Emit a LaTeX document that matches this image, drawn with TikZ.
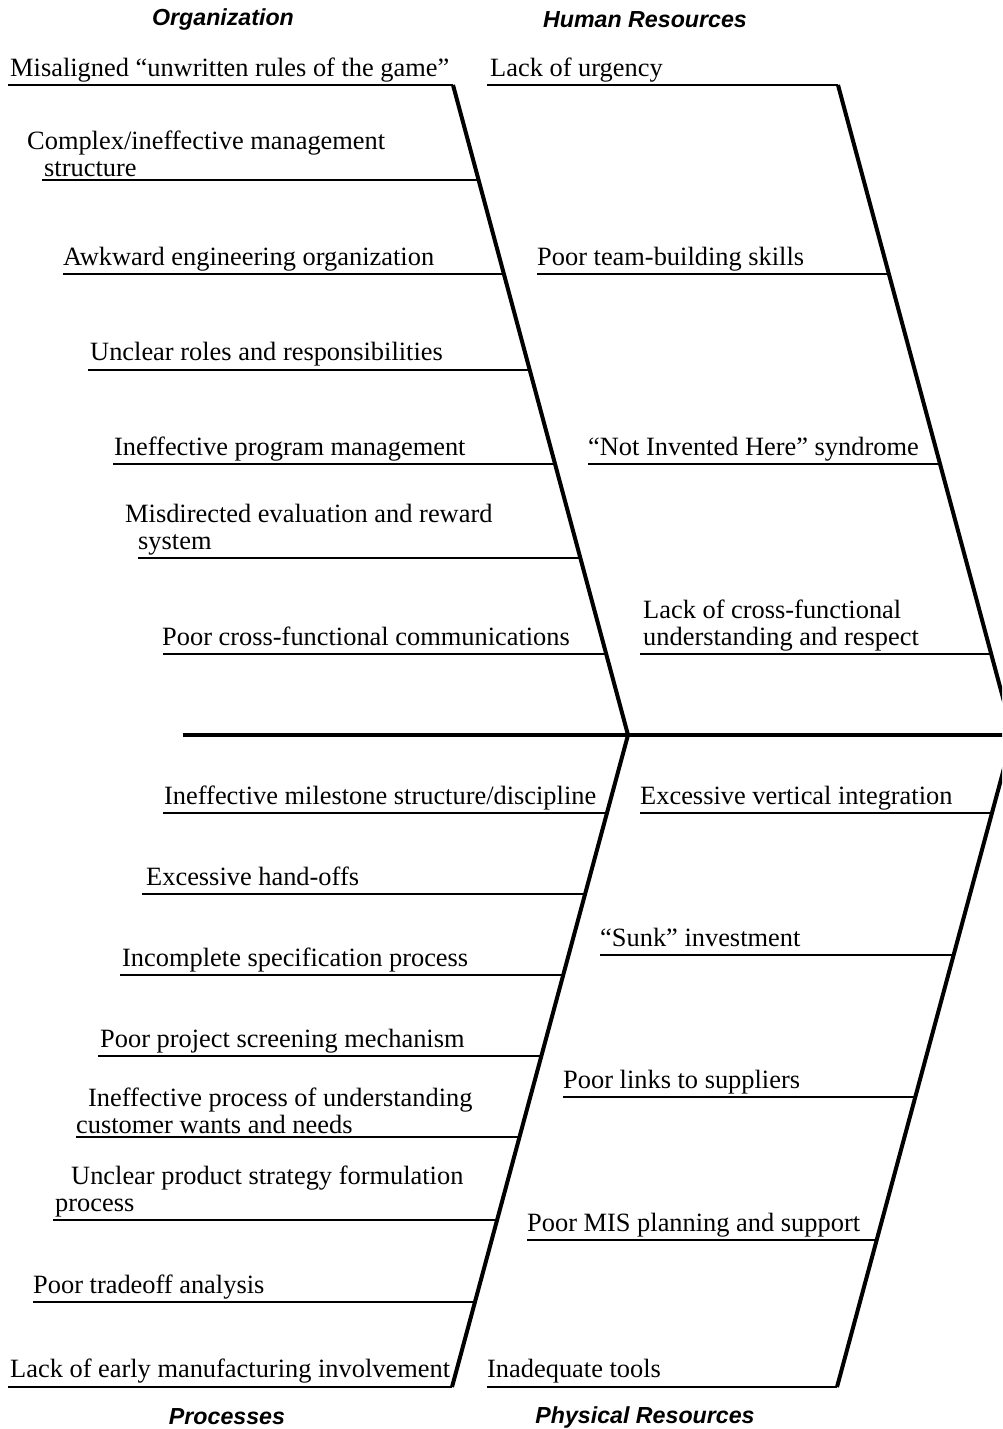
\documentclass[tikz,border=0pt]{standalone}
\usepackage{fontspec}
\setmainfont{Liberation Serif}
\newfontfamily\headfont{Liberation Sans}
\usetikzlibrary{calc}
\newcommand{\myrib}[4]{%
  \coordinate (#1) at (#2);
  \coordinate (#1h) at ($(#1)+(10,0)$);
  \draw[rib] (#1) -- (intersection of #1--#1h and #3--#4);}
\begin{document}
\begin{tikzpicture}[x=1pt,y=-1pt,
  bone/.style={line width=4pt},
  spine/.style={line width=4.4pt},
  rib/.style={line width=1.6pt},
  lbl/.style={anchor=base west,inner sep=0pt,font=\fontsize{26.4}{27}\selectfont,align=left},
  head/.style={inner sep=0pt,font=\headfont\bfseries\itshape\fontsize{23.2}{26}\selectfont}]
\useasboundingbox (0,0) rectangle (1002,1429);
\clip (0,0) rectangle (1002,1429);
% bones
\coordinate (ot) at (453,85);
\coordinate (ob) at (628,735);
\coordinate (ht) at (838,85);
\coordinate (hb) at (1013,735);
\coordinate (pt) at (628,735);
\coordinate (pb) at (452,1387);
\coordinate (yt) at (1013,735);
\coordinate (yb) at (837,1387);
\coordinate (sl) at (183,735);
\coordinate (sr) at (1020,735);
\draw[spine] (sl) -- (sr);
\draw[bone] (ot) -- (ob) -- (pb);
\draw[bone] (ht) -- (hb) -- (yb);
% headers
\node[head] (hOrg) at (223,20) {Organization};
\node[head] (hHR) at (645,20) {Human Resources};
\node[head] (hPr) at (227,1417) {Processes};
\node[head] (hPh) at (645,1417) {Physical Resources};
% Organization
\myrib{o1}{8,85}{ot}{ob}
\node[lbl] (to1) at (10,76) {Misaligned “unwritten rules of the game”};
\myrib{o2}{42,180}{ot}{ob}
\node[lbl,anchor=south west] (to2) at (27,177) {Complex/ineffective management\\\hspace*{17pt}structure};
\myrib{o3}{63,274}{ot}{ob}
\node[lbl] (to3) at (63,265) {Awkward engineering organization};
\myrib{o4}{88,370}{ot}{ob}
\node[lbl] (to4) at (90,360) {Unclear roles and responsibilities};
\myrib{o5}{113,464}{ot}{ob}
\node[lbl] (to5) at (114,455) {Ineffective program management};
\myrib{o6}{138,558}{ot}{ob}
\node[lbl,anchor=south west] (to6) at (125,555) {Misdirected evaluation and reward\\\hspace*{13pt}system};
\myrib{o7}{163,654}{ot}{ob}
\node[lbl] (to7) at (162,645) {Poor cross-functional communications};
% Human resources
\myrib{h1}{487,85}{ht}{hb}
\node[lbl] (th1) at (490,76) {Lack of urgency};
\myrib{h2}{537,274}{ht}{hb}
\node[lbl] (th2) at (537,265) {Poor team-building skills};
\myrib{h3}{588,464}{ht}{hb}
\node[lbl] (th3) at (588,455) {“Not Invented Here” syndrome};
\myrib{h4}{640,654}{ht}{hb}
\node[lbl,anchor=south west] (th4) at (643,651) {Lack of cross-functional\\understanding and respect};
% Processes
\myrib{p1}{163,813}{pt}{pb}
\node[lbl] (tp1) at (164,804) {Ineffective milestone structure/discipline};
\myrib{p2}{142,894}{pt}{pb}
\node[lbl] (tp2) at (146,885) {Excessive hand-offs};
\myrib{p3}{120,975}{pt}{pb}
\node[lbl] (tp3) at (122,966) {Incomplete specification process};
\myrib{p4}{98,1056}{pt}{pb}
\node[lbl] (tp4) at (100,1047) {Poor project screening mechanism};
\myrib{p5}{76,1137}{pt}{pb}
\node[lbl,anchor=south west] (tp5) at (76,1134) {\hspace*{12pt}Ineffective process of understanding\\customer wants and needs};
\myrib{p6}{53,1220}{pt}{pb}
\node[lbl,anchor=south west] (tp6) at (55,1217) {\hspace*{16pt}Unclear product strategy formulation\\process};
\myrib{p7}{33,1302}{pt}{pb}
\node[lbl] (tp7) at (33,1293) {Poor tradeoff analysis};
\coordinate (p8) at (8,1387);
\draw[rib] (p8) -- (pb);
\node[lbl] (tp8) at (10,1377) {Lack of early manufacturing involvement};
% Physical resources
\myrib{y1}{640,813}{yt}{yb}
\node[lbl] (ty1) at (640,804) {Excessive vertical integration};
\myrib{y2}{600,955}{yt}{yb}
\node[lbl] (ty2) at (600,946) {“Sunk” investment};
\myrib{y3}{563,1097}{yt}{yb}
\node[lbl] (ty3) at (563,1088) {Poor links to suppliers};
\myrib{y4}{527,1240}{yt}{yb}
\node[lbl] (ty4) at (527,1231) {Poor MIS planning and support};
\coordinate (y5) at (487,1387);
\draw[rib] (y5) -- (yb);
\node[lbl] (ty5) at (487,1377) {Inadequate tools};
\end{tikzpicture}
\end{document}
